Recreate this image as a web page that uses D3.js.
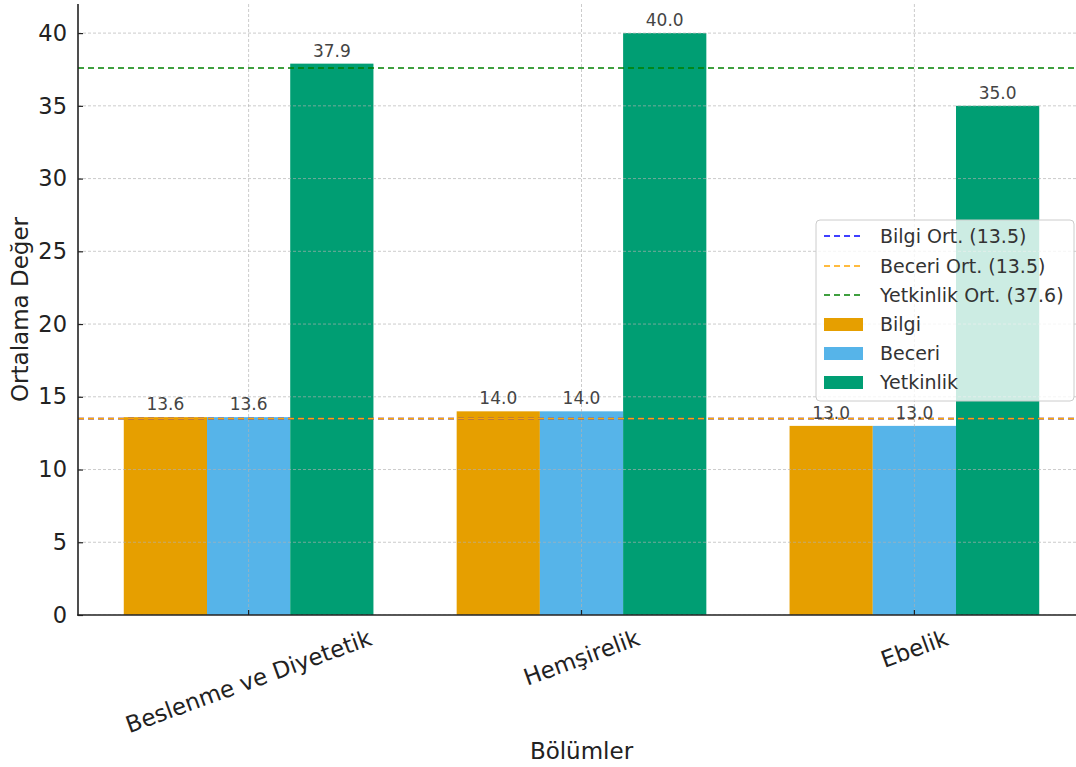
<!DOCTYPE html>
<html>
<head>
<meta charset="utf-8">
<script src="https://cdn.jsdelivr.net/npm/d3@7"></script>
<style>
  html, body { margin: 0; padding: 0; background: #fff; }
  svg { display: block; font-family: "DejaVu Sans", sans-serif; }
</style>
</head>
<body>
<svg id="chart" width="1076" height="767"></svg>
<script>
// ---- data ----
const categories = ["Beslenme ve Diyetetik", "Hemşirelik", "Ebelik"];
const seriesNames = ["Bilgi", "Beceri", "Yetkinlik"];
const bilgiValues = [13.6, 14.0, 13.0];
const beceriValues = [13.6, 14.0, 13.0];
const yetkinlikValues = [37.9, 40.0, 35.0];
const meanNames = ["Bilgi Ort. (13.5)", "Beceri Ort. (13.5)", "Yetkinlik Ort. (37.6)"];
const meanValues = [13.5, 13.5, 37.6];
const yTicks = [0, 5, 10, 15, 20, 25, 30, 35, 40];

(function () {
const barColors = ["#E69F00", "#56B4E9", "#009E73"];
const meanColors = ["blue", "orange", "green"];
const series = [bilgiValues, beceriValues, yetkinlikValues];

const svg = d3.select("#chart");
const pL = 78, pB = 615, pT = 4, pR = 1085;
const barW = 0.25;

const x = d3.scaleLinear().domain([-0.5125, 2.5125]).range([pL, pR]);
const y = d3.scaleLinear().domain([0, 42]).range([pB, pT]);

const plot = svg.append("g");
svg.append("defs").append("clipPath").attr("id", "clipP")
  .append("rect").attr("x", pL).attr("y", pT).attr("width", pR - pL).attr("height", pB - pT);

// bars
series.forEach((vals, j) => {
  plot.append("g").selectAll("rect").data(vals).join("rect")
    .attr("x", (d, i) => x(i + (j - 1) * barW - barW / 2))
    .attr("width", x(barW) - x(0))
    .attr("y", d => y(d))
    .attr("height", d => y(0) - y(d))
    .attr("fill", barColors[j]);
});

// grid (drawn above bars)
const grid = svg.append("g").attr("clip-path", "url(#clipP)");
grid.selectAll("line.hg").data(yTicks).join("line")
  .attr("x1", pL).attr("x2", pR)
  .attr("y1", d => y(d)).attr("y2", d => y(d))
  .attr("stroke", "#b0b0b0").attr("stroke-opacity", 0.65)
  .attr("stroke-width", 1).attr("stroke-dasharray", "3,2");
grid.selectAll("line.vg").data(categories).join("line")
  .attr("x1", (d, i) => x(i)).attr("x2", (d, i) => x(i))
  .attr("y1", pT).attr("y2", pB)
  .attr("stroke", "#b0b0b0").attr("stroke-opacity", 0.65)
  .attr("stroke-width", 1).attr("stroke-dasharray", "3,2");

// mean lines
meanValues.forEach((m, k) => {
  svg.append("line")
    .attr("x1", pL).attr("x2", pR)
    .attr("y1", y(m)).attr("y2", y(m))
    .attr("stroke", meanColors[k]).attr("stroke-width", 1.6)
    .attr("stroke-dasharray", "6,4");
});

// value labels
series.forEach((vals, j) => {
  svg.append("g").selectAll("text").data(vals).join("text")
    .attr("x", (d, i) => x(i + (j - 1) * barW))
    .attr("y", d => y(d) - 7)
    .attr("text-anchor", "middle")
    .attr("font-size", 17)
    .attr("fill", "#444")
    .text(d => d.toFixed(1));
});

// axes
const yAxis = d3.axisLeft(y).tickValues(yTicks).tickSizeInner(-5).tickSizeOuter(0).tickPadding(11);
const yg = svg.append("g").attr("transform", `translate(${pL},0)`).call(yAxis);
yg.select(".domain").remove();
yg.selectAll(".tick line").attr("stroke", "#222").attr("stroke-width", 1.2);
yg.selectAll(".tick text").attr("font-size", 22.5).attr("fill", "#222").attr("font-family", "DejaVu Sans");

// x ticks
svg.append("g").selectAll("line").data(categories).join("line")
  .attr("x1", (d, i) => x(i)).attr("x2", (d, i) => x(i))
  .attr("y1", pB).attr("y2", pB - 5)
  .attr("stroke", "#222").attr("stroke-width", 1.2);

// spines
svg.append("line").attr("x1", pL).attr("x2", pL).attr("y1", pT).attr("y2", pB + 0.75)
  .attr("stroke", "#222").attr("stroke-width", 1.6);
svg.append("line").attr("x1", pL - 0.75).attr("x2", pR).attr("y1", pB).attr("y2", pB)
  .attr("stroke", "#222").attr("stroke-width", 1.6);

// x tick labels, rotated 20°, centred, bbox top at ~627
const xl = svg.append("g");
const xfs = 23;
categories.forEach((c, i) => {
  const t = xl.append("text")
    .attr("font-size", xfs).attr("fill", "#222")
    .attr("text-anchor", "middle").attr("dominant-baseline", "central")
    .text(c);
  const w = t.node().getComputedTextLength();
  const h = xfs * 1.0;
  const a = 20 * Math.PI / 180;
  const bh = w * Math.sin(a) + h * Math.cos(a);
  const cx = x(i), cy = 626 + bh / 2;
  t.attr("transform", `translate(${cx},${cy}) rotate(-20)`);
});

// axis titles
svg.append("text").attr("x", (pL + pR) / 2).attr("y", 759)
  .attr("text-anchor", "middle").attr("font-size", 23).attr("fill", "#222")
  .text("Bölümler");
svg.append("text").attr("transform", `translate(28,${(pT + pB) / 2}) rotate(-90)`)
  .attr("text-anchor", "middle").attr("font-size", 23).attr("fill", "#222")
  .text("Ortalama Değer");

// legend
const lg = svg.append("g");
lg.append("rect").attr("x", 816).attr("y", 220).attr("width", 258).attr("height", 181)
  .attr("rx", 4).attr("fill", "#fff").attr("fill-opacity", 0.8)
  .attr("stroke", "#cccccc").attr("stroke-width", 1);
const rowY = [236, 266, 295, 324, 353, 382];
meanNames.forEach((n, k) => {
  lg.append("line").attr("x1", 824).attr("x2", 863).attr("y1", rowY[k]).attr("y2", rowY[k])
    .attr("stroke", meanColors[k]).attr("stroke-width", 1.6).attr("stroke-dasharray", "6,4");
  lg.append("text").attr("x", 880).attr("y", rowY[k]).attr("dominant-baseline", "central")
    .attr("font-size", 19).attr("fill", "#333").text(n);
});
seriesNames.forEach((n, j) => {
  const ry = rowY[3 + j];
  lg.append("rect").attr("x", 824).attr("y", ry - 6).attr("width", 39).attr("height", 13)
    .attr("fill", barColors[j]);
  lg.append("text").attr("x", 880).attr("y", ry).attr("dominant-baseline", "central")
    .attr("font-size", 19).attr("fill", "#333").text(n);
});
})();
</script>
</body>
</html>
